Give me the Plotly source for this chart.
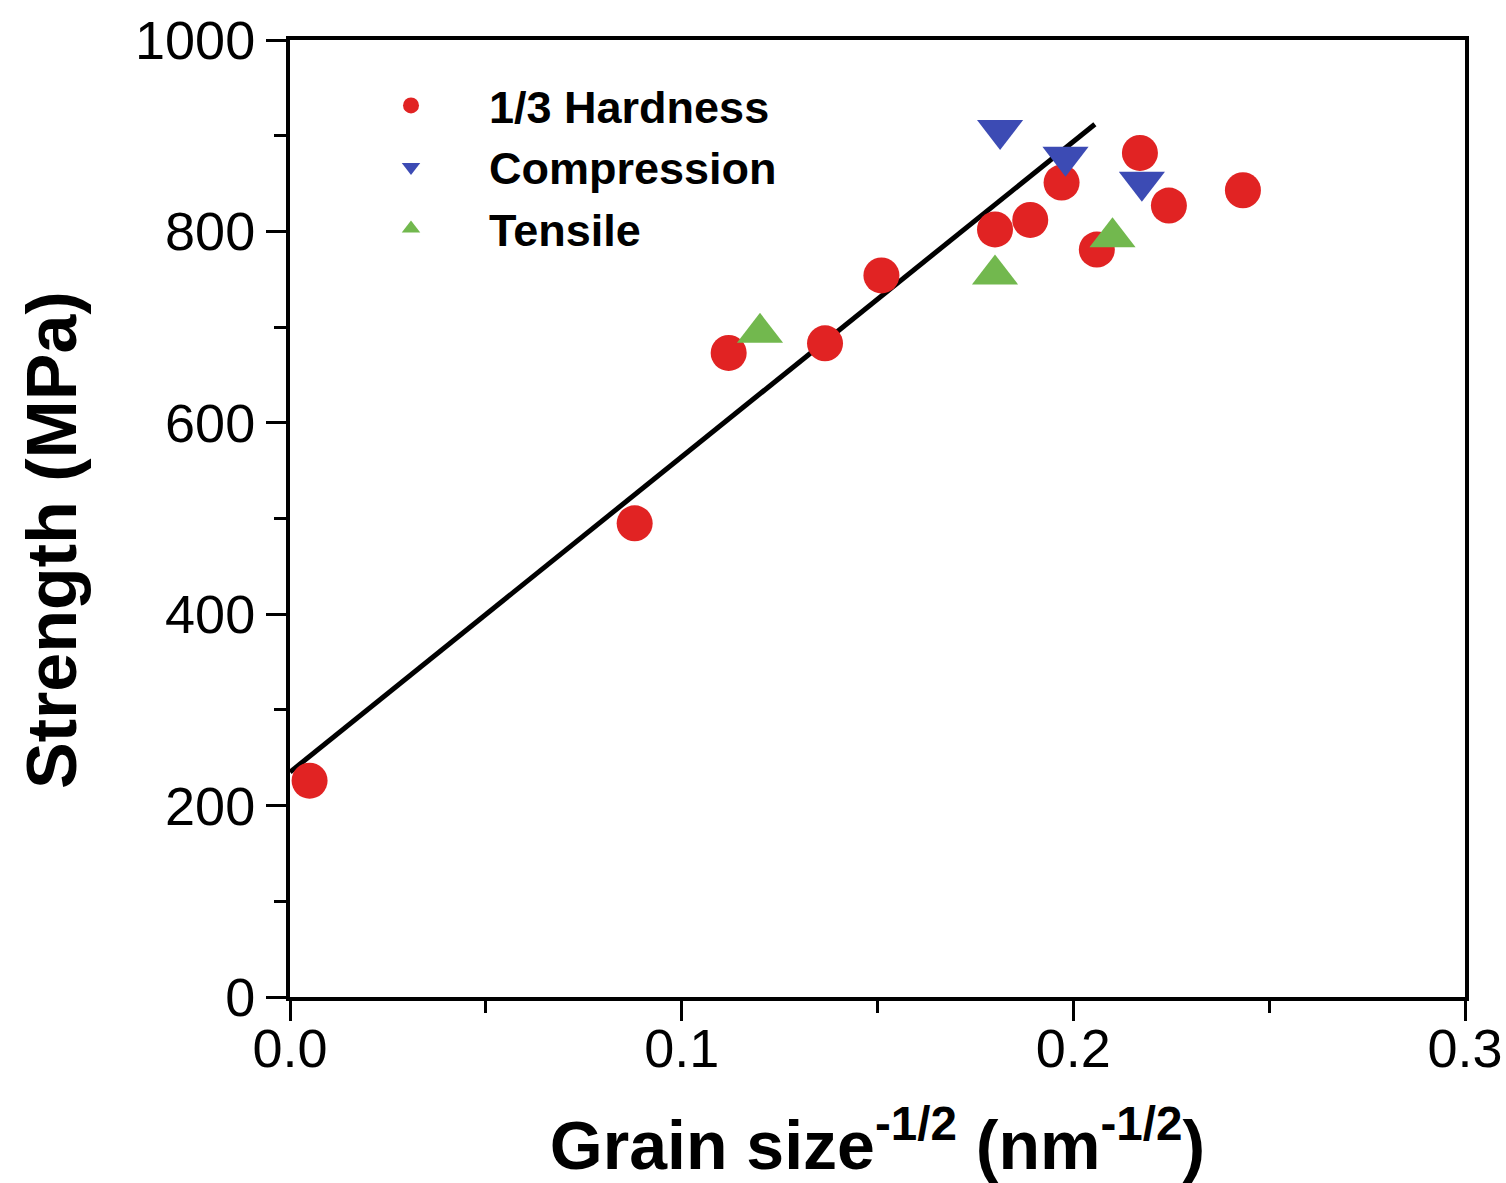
import plotly.graph_objects as go

# Data
hard_x = [0.005, 0.088, 0.112, 0.1366, 0.151, 0.180, 0.189, 0.197, 0.206, 0.217, 0.2244, 0.2433]
hard_y = [226, 495, 673, 683, 754, 802, 812, 851, 781, 882, 827, 843]
comp_x = [0.1813, 0.198, 0.2175]
comp_y = [906, 878, 852]
tens_x = [0.120, 0.180, 0.210]
tens_y = [694, 755, 794]
fit_x = [0.0, 0.2055]
fit_y = [235, 912]

RED = "#E12323"
BLUE = "#3C4BB4"
GREEN = "#72B84E"
FONT = "Liberation Sans, Arial, sans-serif"

fig = go.Figure()
fig.add_trace(go.Scatter(x=fit_x, y=fit_y, mode="lines", line=dict(color="black", width=5),
                         showlegend=False, hoverinfo="skip"))
fig.add_trace(go.Scatter(x=hard_x, y=hard_y, mode="markers", name="1/3 Hardness",
                         marker=dict(symbol="circle", size=36, color=RED), cliponaxis=False))
fig.add_trace(go.Scatter(x=comp_x, y=comp_y, mode="markers", name="Compression",
                         marker=dict(symbol="triangle-down", size=40, color=BLUE), cliponaxis=False))
fig.add_trace(go.Scatter(x=tens_x, y=tens_y, mode="markers", name="Tensile",
                         marker=dict(symbol="triangle-up", size=40, color=GREEN), cliponaxis=False))

axis_common = dict(showline=True, linecolor="black", linewidth=4, mirror=True,
                   showgrid=False, zeroline=False, ticks="outside", tickcolor="black",
                   tickwidth=3, ticklen=20, automargin=False,
                   tickfont=dict(family=FONT, size=54, color="black"))

fig.update_xaxes(range=[0, 0.3], tickvals=[0, 0.1, 0.2, 0.3], ticktext=["0.0", "0.1", "0.2", "0.3"],
                 ticklabelstandoff=-19,
                 minor=dict(tickvals=[0.05, 0.15, 0.25], ticks="outside", ticklen=12, tickwidth=3,
                            tickcolor="black"),
                 title=dict(text="Grain size<sup>-1/2</sup> (nm<sup>-1/2</sup>)",
                            font=dict(family=FONT, size=68, color="black", weight="bold"), standoff=46),
                 **axis_common)
fig.update_yaxes(range=[0, 1000], tickvals=[0, 200, 400, 600, 800, 1000],
                 minor=dict(tickvals=[100, 300, 500, 700, 900], ticks="outside", ticklen=12, tickwidth=3,
                            tickcolor="black"),
                 **axis_common)

fig.add_annotation(text="<b>Strength (MPa)</b>", textangle=-90, showarrow=False,
                   xref="paper", yref="paper", x=0, y=0.4775, xanchor="center", yanchor="middle",
                   xshift=-238, font=dict(family=FONT, size=70, color="black"))

fig.update_layout(
    width=1506, height=1183,
    margin=dict(l=290, r=41, t=40, b=186),
    paper_bgcolor="white", plot_bgcolor="white",
    legend=dict(x=0.0366, y=0.969, xanchor="left", yanchor="top",
                font=dict(family=FONT, size=45, color="black", weight="bold"),
                bgcolor="rgba(0,0,0,0)", itemsizing="trace", itemwidth=146, tracegroupgap=0),
)

fig.write_html("out.html", config={"displayModeBar": False},
               post_script="document.body.style.margin='0px';")
